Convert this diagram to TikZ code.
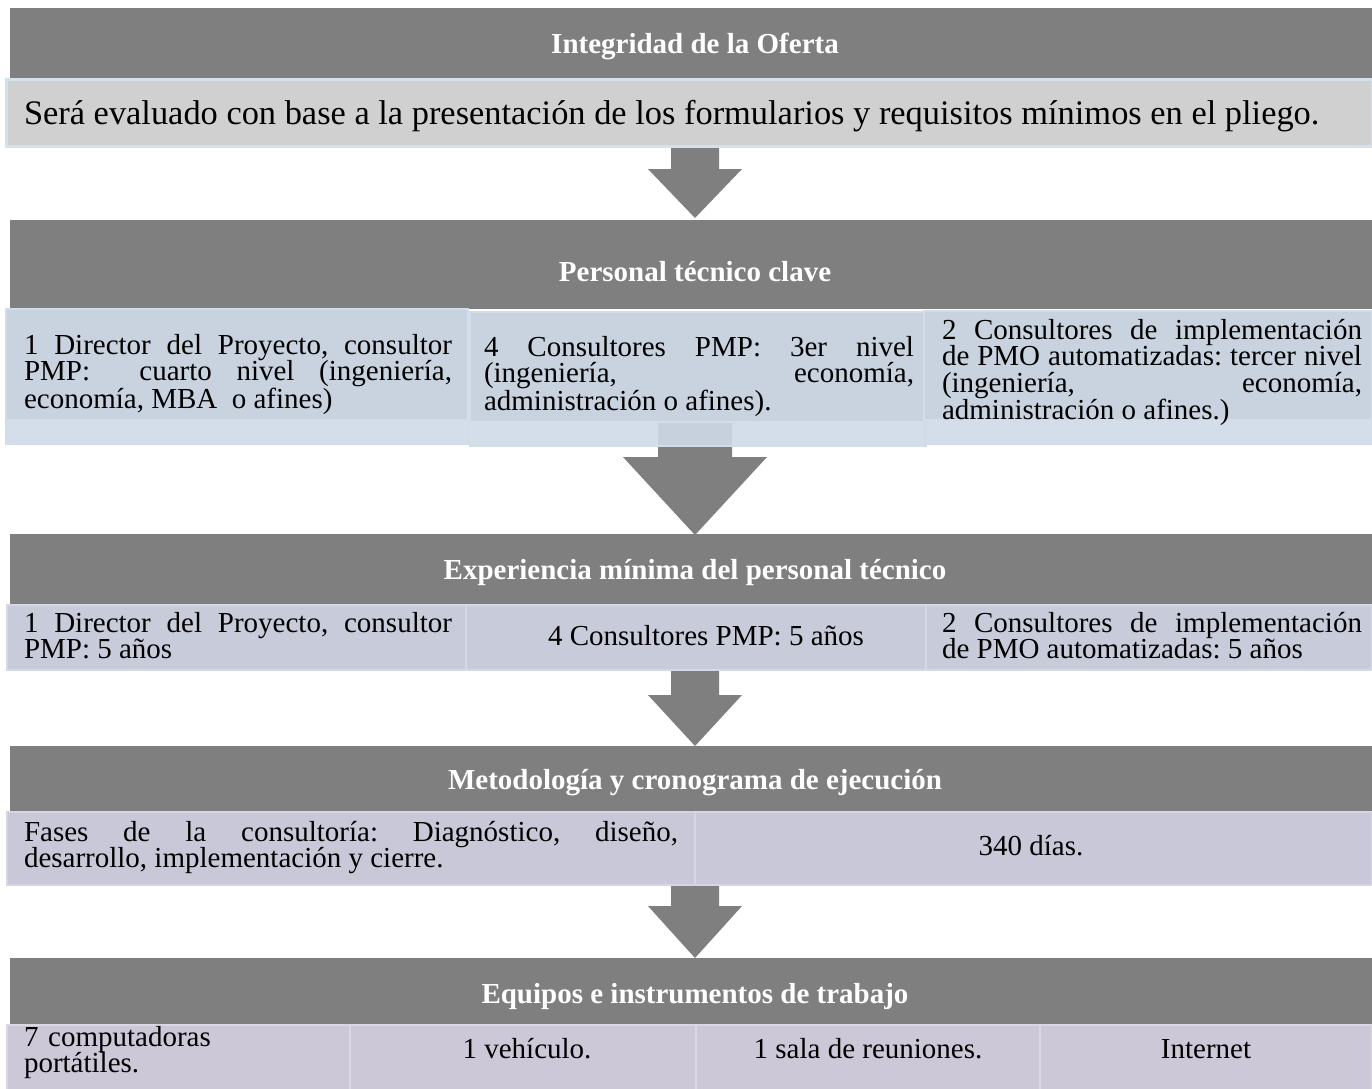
\documentclass[tikz,border=0pt]{standalone}
\usepackage{fontspec}
\setmainfont{Liberation Serif}
\definecolor{hdrgray}{HTML}{7F7F7F}
\definecolor{rowone}{HTML}{D0D0D0}
\definecolor{rowoneline}{HTML}{D3E2EA}
\definecolor{rowtwo}{HTML}{C9D3DF}
\definecolor{rowtwoband}{RGB}{207,219,232}
\definecolor{rowtwoline}{HTML}{D3DDE8}
\definecolor{rowthree}{HTML}{C8CCDA}
\definecolor{rowthreeline}{HTML}{D6D9E5}
\definecolor{rowfour}{HTML}{C8C8D8}
\definecolor{rowfourline}{HTML}{D6D6E3}
\definecolor{rowfive}{HTML}{CCC8D8}
\definecolor{rowfiveline}{HTML}{DAD7E3}
\newcommand\blockarrow[6]{% cx, ytop, yhead, ytip, shafthalf, headhalf
  \fill[hdrgray] (#1-#5,#2) -- (#1+#5,#2) -- (#1+#5,#3) -- (#1+#6,#3) -- (#1,#4)
    -- (#1-#6,#3) -- (#1-#5,#3) -- cycle;}
\frenchspacing
\begin{document}
\begin{tikzpicture}[x=1pt,y=-1pt,
  every node/.style={inner sep=0pt, outer sep=0pt},
  hdrbox/.style={fill=hdrgray, draw=none, anchor=north west},
  cell/.style={anchor=north west, line width=2pt},
  hdrtext/.style={anchor=base, text=white, font=\fontsize{29pt}{26.5pt}\selectfont\bfseries},
  bodytext/.style={anchor=base west, align=justify, font=\fontsize{29pt}{26.5pt}\selectfont},
  onetext/.style={anchor=base, font=\fontsize{29pt}{26.5pt}\selectfont}]
\useasboundingbox (0,0) rectangle (1372,1088);
\fill[white] (0,0) rectangle (1372,1088);
\tolerance=10000 \hbadness=10000 \hyphenpenalty=10000 \frenchspacing

% headers
\node[hdrbox, minimum width=1362pt, minimum height=70pt] (h1) at (10,8) {};
\node[hdrbox, minimum width=1362pt, minimum height=89pt] (h2) at (10,220) {};
\node[hdrbox, minimum width=1362pt, minimum height=71pt] (h3) at (10,534) {};
\node[hdrbox, minimum width=1362pt, minimum height=66pt] (h4) at (10,746) {};
\node[hdrbox, minimum width=1362pt, minimum height=67pt] (h5) at (10,958) {};

% arrows
\blockarrow{695}{140}{169}{218}{24}{47}
\blockarrow{695}{420}{457}{535}{37}{72}
\blockarrow{695}{665}{695}{746}{24}{47}
\blockarrow{695}{880}{906}{958}{24}{47}

% row 1
\node[cell, fill=rowone, draw=rowoneline, line width=3pt, minimum width=1366pt, minimum height=67pt] (r1) at (6,79) {};

% row 2
\node[cell, fill=rowtwo, draw=rowtwoline, minimum width=462pt, minimum height=111pt] (r2a) at (6,309) {};
\node[cell, fill=rowtwo, draw=rowtwoline, minimum width=456pt, minimum height=110pt] (r2b) at (470,312) {};
\node[cell, fill=rowtwo, draw=rowtwoline, minimum width=448pt, minimum height=109pt] (r2c) at (924,311) {};
\node[cell, fill=rowtwoband, fill opacity=0.9, draw=rowtwoline, draw opacity=1, minimum width=462pt, minimum height=24pt] (r2aband) at (6,420) {};
\node[cell, fill=rowtwoband, fill opacity=0.9, draw=rowtwoline, draw opacity=1, minimum width=456pt, minimum height=24pt] (r2bband) at (470,422) {};
\node[cell, fill=rowtwoband, fill opacity=0.9, draw=rowtwoline, draw opacity=1, minimum width=448pt, minimum height=24pt] (r2cband) at (924,420) {};

% row 3
\node[cell, fill=rowthree, draw=rowthreeline, minimum width=459pt, minimum height=65pt] (r3a) at (7,605) {};
\node[cell, fill=rowthree, draw=rowthreeline, minimum width=460pt, minimum height=65pt] (r3b) at (466,605) {};
\node[cell, fill=rowthree, draw=rowthreeline, minimum width=446pt, minimum height=65pt] (r3c) at (926,605) {};

% row 4
\node[cell, fill=rowfour, draw=rowfourline, minimum width=688pt, minimum height=73pt] (r4a) at (7,812) {};
\node[cell, fill=rowfour, draw=rowfourline, minimum width=677pt, minimum height=73pt] (r4b) at (695,812) {};

% row 5
\node[cell, fill=rowfive, draw=rowfiveline, minimum width=343pt, minimum height=75pt] (r5a) at (7,1025) {};
\node[cell, fill=rowfive, draw=rowfiveline, minimum width=346pt, minimum height=75pt] (r5b) at (350,1025) {};
\node[cell, fill=rowfive, draw=rowfiveline, minimum width=344pt, minimum height=75pt] (r5c) at (696,1025) {};
\node[cell, fill=rowfive, draw=rowfiveline, minimum width=332pt, minimum height=75pt] (r5d) at (1040,1025) {};

% texts
\node[hdrtext] (th1) at (695,53) {Integridad de la Oferta};
\node[anchor=base west, font=\fontsize{34.4pt}{30pt}\selectfont] (tr1) at (24,124) {Será evaluado con base a la presentación de los formularios y requisitos mínimos en el pliego.};

\node[hdrtext] (th2) at (695,281) {Personal técnico clave};
\node[bodytext, text width=428pt] (tr2a) at (24,354) {1 Director del Proyecto, consultor\linebreak PMP:\ \ cuarto nivel (ingeniería,\linebreak economía, MBA~ o afines)};
\node[bodytext, text width=430pt] (tr2b) at (484,356) {4 Consultores PMP: 3er nivel\linebreak (ingeniería, economía,\linebreak administración o afines).};
\node[bodytext, text width=420pt] (tr2c) at (942,339) {2 Consultores de implementación\linebreak de PMO automatizadas: tercer nivel\linebreak (ingeniería, economía,\linebreak administración o afines.)};

\node[hdrtext] (th3) at (695,579) {Experiencia mínima del personal técnico};
\node[bodytext, text width=428pt] (tr3a) at (24,632) {1 Director del Proyecto, consultor\linebreak PMP: 5 años};
\node[onetext] (tr3b) at (706,645) {4 Consultores PMP: 5 años};
\node[bodytext, text width=420pt] (tr3c) at (942,632) {2 Consultores de implementación\linebreak de PMO automatizadas: 5 años};

\node[hdrtext] (th4) at (695,789) {Metodología y cronograma de ejecución};
\node[bodytext, text width=654pt] (tr4a) at (24,841) {Fases de la consultoría: Diagnóstico, diseño,\linebreak desarrollo, implementación y cierre.};
\node[onetext] (tr4b) at (1031,855) {340 días.};

\node[hdrtext] (th5) at (695,1003) {Equipos e instrumentos de trabajo};
\node[bodytext, align=left, text width=320pt] (tr5a) at (24,1046) {7 computadoras\\portátiles.};
\node[onetext] (tr5b) at (527,1058) {1 vehículo.};
\node[onetext] (tr5c) at (868,1058) {1 sala de reuniones.};
\node[onetext] (tr5d) at (1206,1058) {Internet};
\end{tikzpicture}
\end{document}
